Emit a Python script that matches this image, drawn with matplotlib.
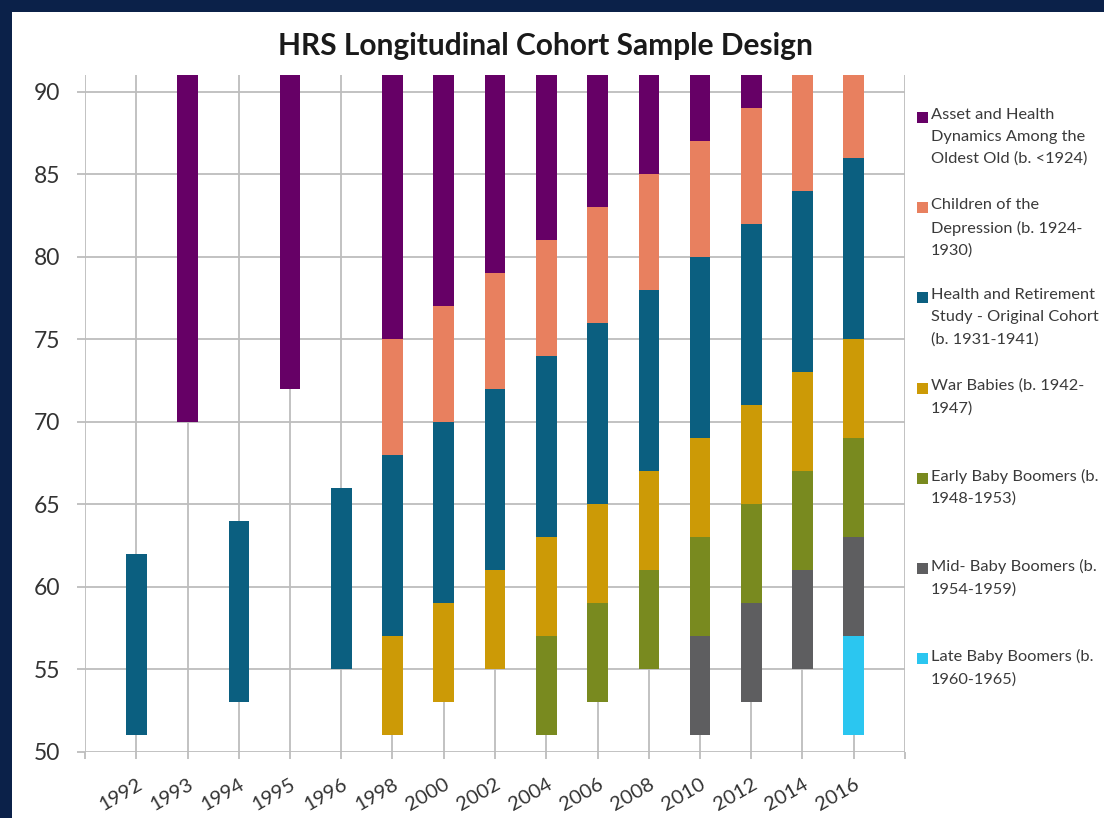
import numpy as np
import matplotlib
matplotlib.use('Agg')
import matplotlib.pyplot as plt
from matplotlib.patches import Rectangle

# Survey waves
years = ['1992', '1993', '1994', '1995', '1996', '1998', '2000', '2002',
         '2004', '2006', '2008', '2010', '2012', '2014', '2016']

# Age ranges (low, high) of each cohort per wave, nan = not in sample
nan = np.nan
ahead_lo = [nan, 70, nan, 72, nan, 75, 77, 79, 81, 83, 85, 87, 89, nan, nan]
ahead_hi = [nan, 91, nan, 91, nan, 91, 91, 91, 91, 91, 91, 91, 91, nan, nan]
coda_lo = [nan, nan, nan, nan, nan, 68, 70, 72, 74, 76, 78, 80, 82, 84, 86]
coda_hi = [nan, nan, nan, nan, nan, 75, 77, 79, 81, 83, 85, 87, 89, 91, 91]
hrs_lo = [51, nan, 53, nan, 55, 57, 59, 61, 63, 65, 67, 69, 71, 73, 75]
hrs_hi = [62, nan, 64, nan, 66, 68, 70, 72, 74, 76, 78, 80, 82, 84, 86]
wb_lo = [nan, nan, nan, nan, nan, 51, 53, 55, 57, 59, 61, 63, 65, 67, 69]
wb_hi = [nan, nan, nan, nan, nan, 57, 59, 61, 63, 65, 67, 69, 71, 73, 75]
ebb_lo = [nan] * 8 + [51, 53, 55, 57, 59, 61, 63]
ebb_hi = [nan] * 8 + [57, 59, 61, 63, 65, 67, 69]
mbb_lo = [nan] * 11 + [51, 53, 55, 57]
mbb_hi = [nan] * 11 + [57, 59, 61, 63]
lbb_lo = [nan] * 14 + [51]
lbb_hi = [nan] * 14 + [57]

labels = ['Asset and Health\nDynamics Among the\nOldest Old (b. <1924)',
          'Children of the\nDepression (b. 1924-\n1930)',
          'Health and Retirement\nStudy - Original Cohort\n(b. 1931-1941)',
          'War Babies (b. 1942-\n1947)',
          'Early Baby Boomers (b.\n1948-1953)',
          'Mid- Baby Boomers (b.\n1954-1959)',
          'Late Baby Boomers (b.\n1960-1965)']
colors = ['#660066', '#E8805F', '#0B5F80', '#CC9A06', '#798A1F', '#5E5E60', '#2BC6F0']

cohorts = [(ahead_lo, ahead_hi), (coda_lo, coda_hi), (hrs_lo, hrs_hi),
           (wb_lo, wb_hi), (ebb_lo, ebb_hi), (mbb_lo, mbb_hi), (lbb_lo, lbb_hi)]

plt.rcParams['font.family'] = ['Lato', 'DejaVu Sans']
grid_col = '#BDBDBD'

fig = plt.figure(figsize=(11.04, 8.18), dpi=100, facecolor='#0B2149')
# white panel (navy frame only visible at top and left)
fig.patches.append(Rectangle((12 / 1104, 0), 1, 1 - 12 / 818, transform=fig.transFigure,
                             facecolor='white', edgecolor='none', zorder=-10))

ax = fig.add_axes([85 / 1104, 1 - 752 / 818, 820 / 1104, 677 / 818])
ax.set_facecolor('white')
ax.set_zorder(2)

x = np.arange(len(years))
for (lo, hi), col in zip(cohorts, colors):
    lo = np.array(lo, dtype=float)
    hi = np.array(hi, dtype=float)
    m = ~np.isnan(lo)
    ax.bar(x[m], hi[m] - lo[m], bottom=lo[m], width=0.4, color=col, zorder=3)

ax.set_xlim(-1, 15)
ax.set_ylim(50, 91)
ax.set_yticks(range(50, 91, 5))
ax.set_xticks(x)
ax.set_xticks([-1, 15], minor=True)
ax.set_xticklabels(years, rotation=30, ha='right', rotation_mode='anchor', fontsize=14.5)
ax.tick_params(axis='y', labelsize=16.5, length=6, width=1.3, color=grid_col,
               pad=12, labelcolor='#333333')
ax.tick_params(axis='x', which='both', length=5, width=1.3, color=grid_col,
               pad=12, labelcolor='#333333')

# gridlines
for yv in range(50, 91, 5):
    ax.axhline(yv, color=grid_col, lw=1.3, zorder=1)
for xv in range(-1, 16):
    ax.axvline(xv, color=grid_col, lw=1.3, zorder=1)
for s in ax.spines.values():
    s.set_visible(False)

fig.text(545 / 1104, 1 - 46 / 818, 'HRS Longitudinal Cohort Sample Design',
         ha='center', va='center', fontsize=21.5, fontweight='bold', color='#1a1a1a')

# legend on the right
for i, (lab, col) in enumerate(zip(labels, colors)):
    ytop = 108 + i * 90.2
    fig.patches.append(Rectangle((917 / 1104, 1 - (ytop + 15) / 818), 11 / 1104, 11 / 818,
                                 transform=fig.transFigure, facecolor=col,
                                 edgecolor='none', zorder=2))
    fig.text(931 / 1104, 1 - ytop / 818, lab, ha='left', va='top', fontsize=11.8,
             color='#3a3a3a', linespacing=1.7)

fig.savefig('out.png', dpi=100, facecolor=fig.get_facecolor())
